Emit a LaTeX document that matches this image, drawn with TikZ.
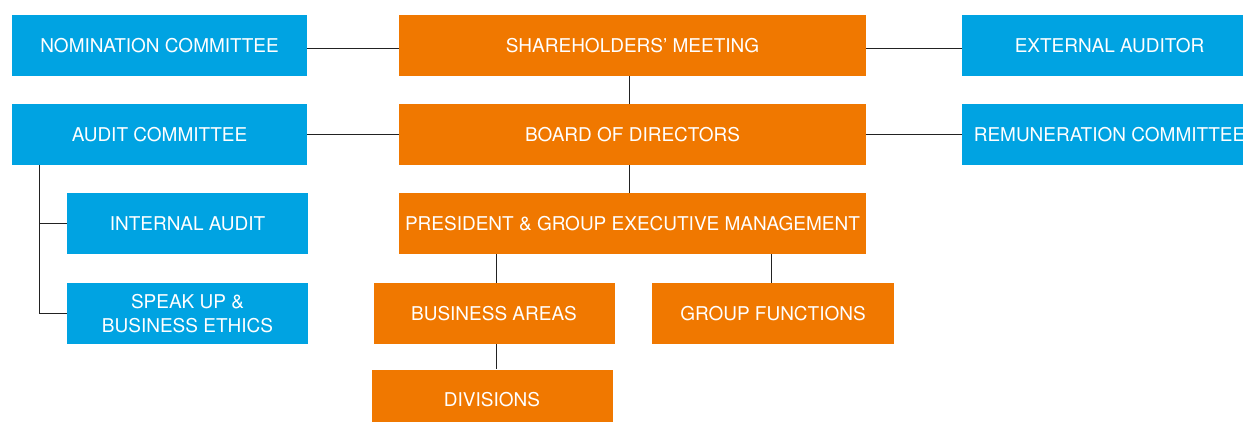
\documentclass[tikz,border=0pt]{standalone}
\usepackage{fontspec}
\setmainfont{TeX Gyre Heros}
\definecolor{boxblue}{HTML}{00A3E2}
\definecolor{boxorange}{HTML}{F07800}
\definecolor{linegrey}{HTML}{222222}
\begin{document}
\begin{tikzpicture}[x=1pt,y=-1pt,
  box/.style={draw=none,text=white,minimum height=61pt,inner sep=0pt,align=center,
    font=\fontsize{19pt}{24pt}\selectfont},
  bluebox/.style={box,fill=boxblue},
  orangebox/.style={box,fill=boxorange},
  link/.style={draw=linegrey,line width=1pt}]
\useasboundingbox (0,0) rectangle (1243,421);
% orange column
\node[orangebox,minimum width=467pt] (share) at (632.5,45.5) {SHAREHOLDERS’ MEETING};
\node[orangebox,minimum width=467pt] (board) at (632.5,134.5) {BOARD OF DIRECTORS};
\node[orangebox,minimum width=467pt] (pres) at (632.5,223.5) {PRESIDENT \& GROUP EXECUTIVE MANAGEMENT};
\node[orangebox,minimum width=241pt] (ba) at (494,313.5) {BUSINESS AREAS};
\node[orangebox,minimum width=242pt] (gf) at (773,313.5) {GROUP FUNCTIONS};
\node[orangebox,minimum width=241pt] (div) at (492,400) {DIVISIONS};
% blue boxes
\node[bluebox,minimum width=295pt] (nom) at (159.5,45.5) {NOMINATION COMMITTEE};
\node[bluebox,minimum width=295pt] (audit) at (159.5,134.5) {AUDIT COMMITTEE};
\node[bluebox,minimum width=241pt] (internal) at (187.5,223.5) {INTERNAL AUDIT};
\node[bluebox,minimum width=241pt] (speak) at (187.5,313.5) {SPEAK UP \&\\BUSINESS ETHICS};
\node[bluebox,minimum width=295pt] (ext) at (1109.5,45.5) {EXTERNAL AUDITOR};
\node[bluebox,minimum width=295pt] (rem) at (1109.5,134.5) {REMUNERATION COMMITTEE};
% connectors
\draw[link] ([yshift=-2.5pt]nom.east) -- ([yshift=-2.5pt]share.west);
\draw[link] ([yshift=-2.5pt]share.east) -- ([yshift=-2.5pt]ext.west);
\draw[link] (audit.east) -- (board.west);
\draw[link] (board.east) -- (rem.west);
\draw[link] ([xshift=-3pt]share.south) -- ([xshift=-3pt]board.north);
\draw[link] ([xshift=-3pt]board.south) -- ([xshift=-3pt]pres.north);
\draw[link] ([xshift=2pt]ba.north) -- ([xshift=2pt]ba.north |- pres.south);
\draw[link] ([xshift=-2pt]gf.north) -- ([xshift=-2pt]gf.north |- pres.south);
\draw[link] ([xshift=2pt]ba.south) -- ([xshift=2pt]ba.south |- div.north);
\coordinate (tree) at ([xshift=27.5pt]audit.south west);
\draw[link] (tree) |- (internal.west);
\draw[link] (tree) |- (speak.west);
\end{tikzpicture}
\end{document}
